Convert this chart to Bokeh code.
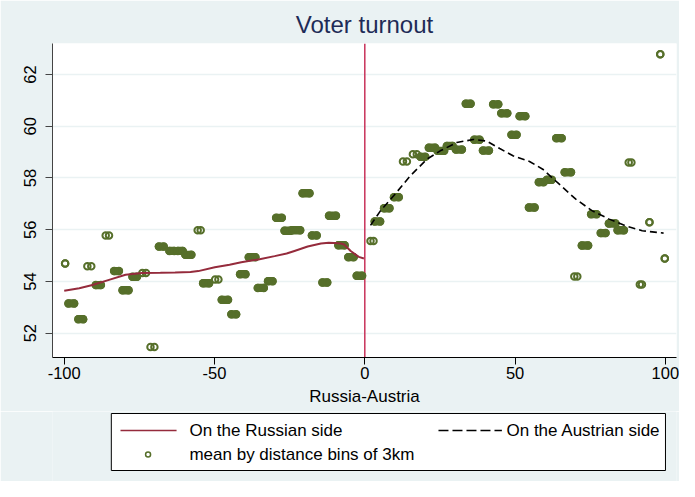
from bokeh.plotting import figure
from bokeh.models import Range1d, FixedTicker, Span
from bokeh.layouts import column
from bokeh.embed import file_html
from bokeh.resources import INLINE
from bokeh.core.properties import value
import numpy as np

# ---------------- data ----------------
title_text = "Voter turnout"
x_label = "Russia-Austria"
legend_labels = ["On the Russian side", "On the Austrian side", "mean by distance bins of 3km"]
x_ticks = [-100, -50, 0, 50, 100]
y_ticks = [52, 54, 56, 58, 60, 62]

# mean turnout by 3km distance bins: first / last plotted distance of each bin, and bin mean
bin_lo = [-99.7, -98.6, -95.3, -92.3, -89.5, -86.2, -83.4, -80.6, -77.3, -74.0,
          -71.3, -68.5, -65.0, -62.2, -59.7, -55.6, -53.8, -49.8, -47.6, -44.4,
          -41.5, -38.6, -35.6, -32.2, -29.5, -26.7, -24.2, -20.7, -17.6, -14.1,
          -11.9, -8.8, -5.5, -2.7,
          1.9, 3.3, 6.4, 9.7, 12.7, 16.0, 18.5, 21.3, 24.2, 27.3,
          30.3, 33.6, 36.4, 39.3, 42.7, 45.4, 48.8, 51.5, 54.6, 57.9,
          60.6, 63.7, 66.5, 69.7, 72.2, 75.3, 78.5, 81.2, 84.1, 87.8,
          91.5, 94.7, 98.3, 99.8]
bin_hi = [-99.7, -96.7, -93.7, -91.0, -87.8, -85.1, -81.8, -78.6, -75.8, -72.8,
          -70.0, -66.9, -63.4, -60.6, -57.7, -54.6, -51.8, -48.7, -45.5, -42.8,
          -39.7, -36.4, -33.6, -30.7, -27.6, -24.8, -21.5, -18.4, -16.0, -12.5,
          -9.6, -6.7, -3.7, -0.9,
          2.9, 5.1, 8.2, 11.3, 14.0, 17.3, 20.1, 23.4, 26.4, 29.2,
          32.3, 35.2, 38.2, 41.3, 44.4, 47.4, 50.5, 53.4, 56.5, 59.5,
          62.2, 65.5, 68.6, 70.7, 74.3, 77.1, 80.1, 83.4, 86.2, 88.7,
          92.2, 94.7, 98.3, 99.8]
bin_mean = [54.69, 53.15, 52.54, 54.59, 53.86, 55.78, 54.40, 53.66, 54.18, 54.33,
            51.47, 55.35, 55.18, 55.18, 55.03, 55.98, 53.93, 54.08, 53.29, 52.73,
            54.28, 54.94, 53.75, 54.01, 56.46, 55.96, 55.98, 57.41, 55.78, 53.96,
            56.54, 55.40, 54.94, 54.22,
            55.56, 56.32, 56.83, 57.26, 58.64, 58.92, 58.82, 59.17, 59.05, 59.24,
            59.10, 60.87, 59.48, 59.06, 60.85, 60.50, 59.67, 60.39, 56.86, 57.84,
            57.93, 59.54, 58.22, 54.19, 55.39, 56.60, 55.87, 56.24, 55.98, 58.60,
            53.88, 56.29, 62.78, 54.89]

# local fit, Russian side
rus_x = [-100.0, -95.0, -90.6, -85.1, -79.6, -74.1, -68.0, -63.1, -58.0, -55.4,
         -49.9, -45.0, -41.1, -35.0, -30.0, -26.0, -23.4, -19.0, -14.6, -12.0,
         -10.2, -8.0, -6.9, -4.7, -2.0, -0.3]
rus_y = [53.64, 53.74, 53.86, 54.06, 54.26, 54.33, 54.34, 54.35, 54.37, 54.40,
         54.55, 54.65, 54.74, 54.86, 54.98, 55.08, 55.18, 55.35, 55.47, 55.50,
         55.49, 55.47, 55.43, 55.18, 54.95, 54.89]

# local fit, Austrian side
aut_x = [1.9, 5.2, 9.6, 15.1, 20.7, 25.1, 30.6, 36.1, 40.5, 44.9,
         49.3, 54.8, 59.2, 64.7, 70.2, 75.7, 81.3, 86.8, 92.3, 99.4]
aut_y = [56.17, 56.73, 57.31, 58.08, 58.73, 59.05, 59.37, 59.49, 59.43, 59.14,
         58.86, 58.64, 58.34, 57.76, 57.18, 56.73, 56.41, 56.15, 55.96, 55.87]

# ---------------- style ----------------
BG = "#EAF2F3"
GREEN = "#566F2A"
RED = "#952B3C"
VLINE = "#C8325A"
NAVY = "#1E2B57"
FONT = "Liberation Sans"

W = 679
p = figure(width=W, height=411,
           x_range=Range1d(-103.9, 103.7), y_range=Range1d(51.06, 63.2),
           output_backend="svg", toolbar_location=None,
           min_border_left=52, min_border_right=3, min_border_top=43, min_border_bottom=54,
           background_fill_color="white", border_fill_color=BG,
           outline_line_color=None)

p.title.text = title_text
p.title.align = "center"
p.title.text_font = FONT
p.title.text_font_size = "24px"
p.title.text_font_style = "normal"
p.title.text_color = NAVY
p.title.standoff = 11

# axes
p.xaxis.ticker = FixedTicker(ticks=x_ticks)
p.yaxis.ticker = FixedTicker(ticks=y_ticks)
p.xaxis.major_label_overrides = {t: str(t) for t in x_ticks}
p.yaxis.major_label_overrides = {t: str(t) for t in y_ticks}
p.xaxis.axis_label = x_label
for ax in (p.xaxis, p.yaxis):
    ax.major_label_text_font = FONT
    ax.major_label_text_font_size = "16.5px"
    ax.major_label_text_color = "black"
    ax.axis_label_text_font = FONT
    ax.axis_label_text_font_size = "17px"
    ax.axis_label_text_font_style = "normal"
    ax.axis_label_text_color = "black"
    ax.major_tick_in = 0
    ax.major_tick_out = 7
    ax.minor_tick_line_color = None
p.xaxis.axis_line_color = "black"
p.xaxis.major_tick_line_color = "black"
p.yaxis.axis_line_color = "#444444"
p.yaxis.major_tick_line_color = "#444444"
p.xaxis.major_label_standoff = 2
p.xaxis.axis_label_standoff = 5
p.yaxis.major_label_orientation = "vertical"
p.yaxis.major_label_standoff = 9

p.xgrid.visible = False
p.ygrid.ticker = FixedTicker(ticks=y_ticks)
p.ygrid.grid_line_color = BG
p.ygrid.grid_line_width = 1.6

p.add_layout(Span(location=0, dimension="height", line_color=VLINE, line_width=1.5, level="underlay"))

# binned means (hollow circles; overlapping observations of a bin form a pill)
lo = np.array(bin_lo)
hi = np.array(bin_hi)
m = np.array(bin_mean)
wide = (hi - lo) >= 1.5
p.segment(x0=lo[wide], y0=m[wide], x1=hi[wide], y1=m[wide],
          line_color=GREEN, line_width=8.3, line_cap="round")
p.scatter(x=np.concatenate([lo, hi]), y=np.concatenate([m, m]), marker="circle",
          size=6.5, line_width=2, line_color=GREEN, fill_color=None)

p.line(rus_x, rus_y, line_color=RED, line_width=2)
p.line(aut_x, aut_y, line_color="black", line_width=1.6, line_dash="7 4")

# ---------------- legend panel ----------------
LH = 70
q = figure(width=W, height=LH, x_range=Range1d(0, W), y_range=Range1d(LH, 0),
           output_backend="svg", toolbar_location=None,
           x_axis_location=None, y_axis_location=None, min_border=0,
           background_fill_color=BG, border_fill_color=BG, outline_line_color=None)
q.grid.visible = False
q.quad(left=64, right=667, top=2, bottom=59, fill_color="white", line_color="black", line_width=1)
q.line([74, 135], [19, 19], line_color=RED, line_width=1.5)
q.line([420, 489], [19, 19], line_color="black", line_width=1.5, line_dash="10 4")
q.scatter([104], [43], marker="circle", size=5, line_width=1.5, line_color=GREEN, fill_color=None)
q.text(x=[149, 494, 149], y=[19, 19, 43], text=legend_labels,
       text_baseline="middle", text_align="left",
       text_font=value(FONT), text_font_size=value("17px"), text_color="black")

layout = column(p, q, spacing=0)
open("out.html", "w").write(file_html(layout, INLINE))
